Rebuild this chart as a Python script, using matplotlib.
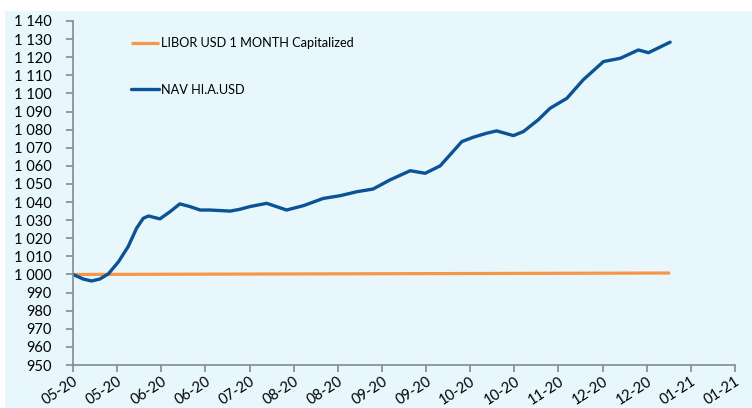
import matplotlib.pyplot as plt
from matplotlib.patches import Rectangle

# x positions are in tick periods (one period per x label)
tick_labels = ["05-20", "05-20", "06-20", "06-20", "07-20", "08-20", "08-20", "09-20",
               "09-20", "10-20", "10-20", "11-20", "12-20", "12-20", "01-21", "01-21"]

nav_x = [0.0, 0.23, 0.42, 0.61, 0.80, 1.03, 1.25, 1.44, 1.59, 1.71, 1.97, 2.20, 2.42,
         2.65, 2.88, 3.10, 3.56, 3.78, 4.01, 4.39, 4.84, 5.22, 5.67, 6.05, 6.43, 6.80,
         7.18, 7.64, 7.98, 8.32, 8.54, 8.81, 9.07, 9.37, 9.60, 9.98, 10.21, 10.54, 10.81,
         11.19, 11.56, 12.02, 12.40, 12.81, 13.04, 13.53]
nav = [1000, 997.5, 996.4, 997.5, 1000.3, 1007, 1015.4, 1025.5, 1031, 1032.3, 1030.7,
       1034.7, 1039, 1037.5, 1035.6, 1035.6, 1035, 1036, 1037.5, 1039.3, 1035.6, 1038,
       1042, 1043.5, 1045.7, 1047.2, 1052.2, 1057.3, 1055.9, 1060, 1066, 1073.4, 1075.8,
       1078, 1079.3, 1076.7, 1079, 1085.4, 1091.8, 1097.3, 1107.5, 1117.6, 1119.4, 1124,
       1122.5, 1128.3]

libor_x = [0.0, 13.53]
libor = [1000, 1000.8]

plt.rcParams['font.family'] = ['Lato', 'DejaVu Sans']

fig = plt.figure(figsize=(7.52, 4.08), dpi=100, facecolor="white")
fig.patches.append(Rectangle((5 / 752, 0), 1, 1 - 11 / 408, transform=fig.transFigure,
                             facecolor="#E7F7FC", edgecolor="none", zorder=-10))

ax = fig.add_axes([73 / 752, 1 - 365 / 408, (735 - 73) / 752, (365 - 21) / 408])
ax.set_facecolor("none")

ax.plot(libor_x, libor, color="#F79646", lw=2.3, solid_capstyle="butt",
        label="LIBOR USD 1 MONTH Capitalized")
ax.plot(nav_x, nav, color="#0B5394", lw=2.4, solid_joinstyle="round",
        solid_capstyle="round", label="NAV HI.A.USD")

ax.set_xlim(0, 15)
ax.set_ylim(950, 1140)
ax.set_xticks(range(16))
ax.set_xticklabels(tick_labels, rotation=33, ha="right", rotation_mode="anchor")
ax.set_yticks(range(950, 1141, 10))
ax.set_yticklabels([f"{v:,}".replace(",", " ") for v in range(950, 1141, 10)])

for side in ("top", "right"):
    ax.spines[side].set_visible(False)
for side in ("left", "bottom"):
    ax.spines[side].set_color("#7F8C93")
    ax.spines[side].set_linewidth(1.2)
ax.tick_params(axis="both", color="#7F8C93", width=1.2, length=5, labelsize=10.5,
               labelcolor="black")
ax.tick_params(axis="x", pad=2)
ax.tick_params(axis="y", pad=10.5)

ax.legend(loc="upper left", bbox_to_anchor=(0.087, 0.953), frameon=False,
          fontsize=9.2, handlelength=2.2, handletextpad=0.15, labelspacing=2.7,
          borderpad=0, borderaxespad=0)

fig.savefig("out.png", dpi=100, facecolor=fig.get_facecolor())
